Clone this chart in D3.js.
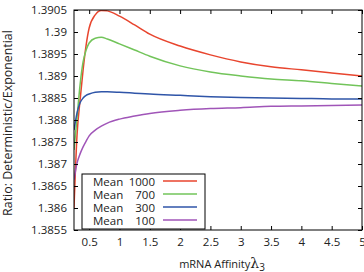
<!DOCTYPE html>
<html lang="en">
<head>
  <meta charset="UTF-8">
  <title></title>
  <style>
    html, body {
      margin: 0;
      overflow: hidden;
      width: 100%;
      height: 100%;
      background: #fff;
    }
    svg {
      position: absolute;
      top: 0;
      left: 0;
    }
    text {
      font-family: "Open Sans", sans-serif;
    }
  </style>
</head>
<body>
  <svg width="364" height="272"></svg>
</body>
<script src="https://d3js.org/d3.v7.min.js"></script>
<script type="text/javascript">
  const affinity = [0.25, 0.3, 0.35, 0.4, 0.45, 0.5, 0.6, 0.7, 0.8, 1, 1.25, 1.5, 2, 2.5, 3, 3.5, 4, 4.5, 5]
  const mean1000 = [1.38600, 1.38766, 1.38845, 1.38914, 1.38970, 1.39009, 1.39039, 1.39049, 1.39048, 1.39036, 1.39016, 1.38995, 1.38968, 1.38948, 1.38932, 1.38921, 1.38914, 1.38907, 1.38900]
  const mean700 = [1.38732, 1.38805, 1.38880, 1.38932, 1.38959, 1.38975, 1.38986, 1.38988, 1.38984, 1.38973, 1.38959, 1.38945, 1.38923, 1.38909, 1.38900, 1.38893, 1.38889, 1.38883, 1.38877]
  const mean300 = [1.38777, 1.38816, 1.38839, 1.38850, 1.38856, 1.38859, 1.38863, 1.38864, 1.38864, 1.38863, 1.38861, 1.38859, 1.38856, 1.38853, 1.38851, 1.38850, 1.38849, 1.38848, 1.38848]
  const mean100 = [1.38664, 1.38702, 1.38723, 1.38739, 1.38752, 1.38764, 1.38777, 1.38786, 1.38793, 1.38802, 1.38809, 1.38815, 1.38822, 1.38826, 1.38828, 1.38831, 1.38832, 1.38833, 1.38834]

  const means = ['1000', '700', '300', '100']
  const xTicks = [0.5, 1, 1.5, 2, 2.5, 3, 3.5, 4, 4.5, 5]
  const yTicks = [1.3855, 1.386, 1.3865, 1.387, 1.3875, 1.388, 1.3885, 1.389, 1.3895, 1.39, 1.3905]

  const colors = ['#e8452e', '#72c45a', '#2f55a8', '#a055b8']
  const series = [mean1000, mean700, mean300, mean100]

  const svg = d3.select('svg')
  const plotL = 74, plotR = 362, plotT = 10, plotB = 230

  const x = d3.scaleLinear().domain([0.25, 5]).range([plotL, plotR])
  const y = d3.scaleLinear().domain([1.3855, 1.3905]).range([plotB, plotT])

  svg.append('clipPath').attr('id', 'clip')
    .append('rect')
    .attr('x', plotL).attr('y', plotT)
    .attr('width', plotR - plotL).attr('height', plotB - plotT)

  const line = d3.line()
    .x((d, i) => x(affinity[i]))
    .y(d => y(d))
    .curve(d3.curveMonotoneX)

  svg.append('g').attr('clip-path', 'url(#clip)')
    .selectAll('path')
    .data(series)
    .enter()
    .append('path')
    .attr('d', line)
    .attr('fill', 'none')
    .attr('stroke', (d, i) => colors[i])
    .attr('stroke-width', 1.5)

  // axes with gnuplot style inward ticks, mirrored
  const fmt = d => String(d)
  const axisStyle = g => {
    g.attr('font-family', '"Open Sans", sans-serif').attr('font-size', 11.5)
    g.select('.domain').remove()
    g.selectAll('line').attr('stroke', '#000')
    g.selectAll('text').attr('fill', '#222')
  }

  svg.append('g')
    .attr('transform', `translate(0,${plotB})`)
    .call(d3.axisBottom(x).tickValues(xTicks).tickFormat(fmt).tickSizeInner(-4).tickSizeOuter(0).tickPadding(8))
    .call(axisStyle)

  svg.append('g')
    .attr('transform', `translate(0,${plotT})`)
    .call(d3.axisTop(x).tickValues(xTicks).tickFormat('').tickSizeInner(-4).tickSizeOuter(0))
    .call(axisStyle)

  svg.append('g')
    .attr('transform', `translate(${plotL},0)`)
    .call(d3.axisLeft(y).tickValues(yTicks).tickFormat(fmt).tickSizeInner(-4).tickSizeOuter(0).tickPadding(7))
    .call(axisStyle)

  svg.append('g')
    .attr('transform', `translate(${plotR},0)`)
    .call(d3.axisRight(y).tickValues(yTicks).tickFormat('').tickSizeInner(-4).tickSizeOuter(0))
    .call(axisStyle)

  svg.append('rect')
    .attr('x', plotL).attr('y', plotT)
    .attr('width', plotR - plotL).attr('height', plotB - plotT)
    .attr('fill', 'none')
    .attr('stroke', '#000')
    .attr('stroke-width', 1)

  // legend
  const legend = svg.append('g')
  legend.append('rect')
    .attr('x', 82).attr('y', 174)
    .attr('width', 123).attr('height', 55)
    .attr('fill', '#fff')
    .attr('stroke', '#000')

  const rows = legend.selectAll('g.row')
    .data(means)
    .enter()
    .append('g')
    .attr('class', 'row')
    .attr('transform', (d, i) => `translate(0,${181 + i * 13})`)

  rows.append('text')
    .attr('x', 93)
    .attr('y', 4.5)
    .attr('fill', '#222')
    .style('font-size', '11.5px')
    .text('Mean')

  rows.append('text')
    .attr('x', 155)
    .attr('y', 4.5)
    .attr('text-anchor', 'end')
    .attr('fill', '#222')
    .style('font-size', '11.5px')
    .text(d => d)

  rows.append('line')
    .attr('x1', 163).attr('x2', 197)
    .attr('y1', 0).attr('y2', 0)
    .attr('stroke', (d, i) => colors[i])
    .attr('stroke-width', 1.5)

  // axis titles
  const xTitle = svg.append('text')
    .attr('x', 222)
    .attr('y', 268)
    .attr('text-anchor', 'middle')
    .attr('fill', '#222')
    .style('font-size', '11px')
  xTitle.append('tspan').text('mRNA Affinity')
  xTitle.append('tspan').style('font-size', '14px').style('font-family', '"DejaVu Serif", serif').text('λ')
  xTitle.append('tspan').attr('dy', 3).style('font-size', '10px').text('3')

  svg.append('text')
    .attr('transform', 'translate(12,123) rotate(-90)')
    .attr('text-anchor', 'middle')
    .attr('fill', '#222')
    .style('font-size', '12.4px')
    .text('Ratio: Deterministic/Exponential')
</script>
</html>
